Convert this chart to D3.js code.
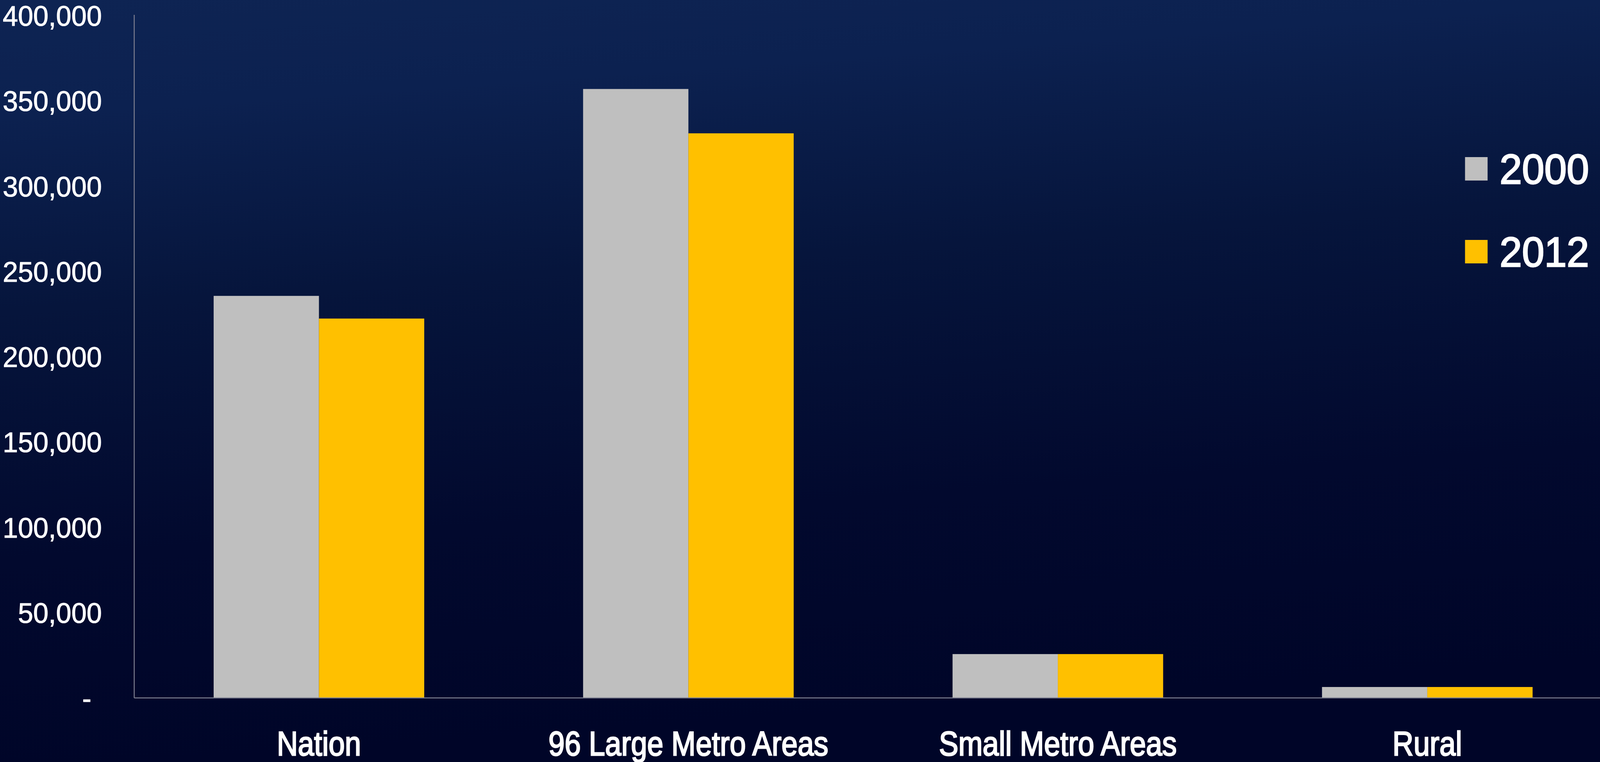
<!DOCTYPE html>
<html>
<head>
<meta charset="utf-8">
<script src="https://cdn.jsdelivr.net/npm/d3@7"></script>
<style>
  html, body { margin: 0; padding: 0; background: #000528; width: 100%; height: 100%; overflow: hidden; }
  svg { display: block; width: 100vw; height: 100vh; }
</style>
</head>
<body>
<svg id="chart" viewBox="0 0 4256 1950" preserveAspectRatio="none"></svg>
<script>
// ---- data ----
const categories = ["Nation", "96 Large Metro Areas", "Small Metro Areas", "Rural"];
const seriesNames = ["2000", "2012"];
const values2000 = [235700, 357000, 25700, 6400];
const values2012 = [222400, 331000, 25700, 6400];
const yTicks = [0, 50000, 100000, 150000, 200000, 250000, 300000, 350000, 400000];
const seriesColors = ["#BFBFBF", "#FFC000"];

const W = 4256, H = 1950;
const svg = d3.select("#chart");

// background gradient
const defs = svg.append("defs");
const grad = defs.append("linearGradient").attr("id", "bg")
  .attr("x1", "0").attr("y1", "0").attr("x2", "0.15").attr("y2", "1");
[["0%", "#0e2453"], ["15%", "#0c2150"], ["40%", "#06153c"], ["72%", "#02092e"], ["100%", "#000528"]]
  .forEach(([o, c]) => grad.append("stop").attr("offset", o).attr("stop-color", c));
svg.append("rect").attr("width", W).attr("height", H).attr("fill", "url(#bg)");

const x0 = 357, xEnd = 4288, yTop = 40, yBase = 1786;

const x = d3.scaleBand().domain(categories).range([x0, xEnd])
  .paddingInner(0.43).paddingOuter(0.215);
const xs = d3.scaleBand().domain(seriesNames).range([0, x.bandwidth()]);
const y = d3.scaleLinear().domain([0, 400000]).range([yBase, yTop]);

const rows = categories.map((c, i) => ({ cat: c, vals: [values2000[i], values2012[i]] }));

// bars
const g = svg.append("g");
rows.forEach(r => {
  r.vals.forEach((v, j) => {
    g.append("rect")
      .attr("x", x(r.cat) + xs(seriesNames[j]))
      .attr("y", y(v))
      .attr("width", xs.bandwidth())
      .attr("height", y(0) - y(v))
      .attr("fill", seriesColors[j]);
  });
});

// axes lines
svg.append("line").attr("x1", x0).attr("x2", x0).attr("y1", 38).attr("y2", yBase)
  .attr("stroke", "#7f8090").attr("stroke-width", 2.5);
svg.append("line").attr("x1", x0).attr("x2", W).attr("y1", yBase).attr("y2", yBase)
  .attr("stroke", "#7f8090").attr("stroke-width", 2.5);

// y tick labels
const fmt = d3.format(",");
const yAxis = d3.axisLeft(y).tickValues(yTicks).tickSize(0).tickPadding(0)
  .tickFormat(d => d === 0 ? "-" : fmt(d));
const ya = svg.append("g").attr("transform", `translate(271,0)`).call(yAxis);
ya.select(".domain").remove();
ya.selectAll("text")
  .attr("fill", "#ffffff")
  .attr("stroke", "#ffffff")
  .attr("stroke-width", 1.2)
  .attr("font-family", "'Liberation Sans', Arial, sans-serif")
  .attr("font-size", 73)
  .attr("dy", "0.35em")
  .attr("x", d => d === 0 ? -28 : 0);

// x labels (condensed)
const xa = svg.append("g");
categories.forEach(c => {
  const cx = x(c) + x.bandwidth() / 2;
  xa.append("text")
    .attr("transform", `translate(${cx},1933) scale(0.88,1)`)
    .attr("text-anchor", "middle")
    .attr("fill", "#ffffff")
    .attr("stroke", "#ffffff")
    .attr("stroke-width", 3)
    .attr("font-family", "'Liberation Sans', Arial, sans-serif")
    .attr("font-size", 88)
    .text(c);
});

// legend
const leg = svg.append("g");
seriesNames.forEach((s, i) => {
  const ly = 402 + i * 212;
  leg.append("rect").attr("x", 3897).attr("y", ly).attr("width", 60).attr("height", 60)
    .attr("fill", seriesColors[i]);
  leg.append("text").attr("x", 3989).attr("y", ly + 68)
    .attr("fill", "#ffffff")
    .attr("stroke", "#ffffff")
    .attr("stroke-width", 3)
    .attr("font-family", "'Liberation Sans', Arial, sans-serif")
    .attr("font-size", 107)
    .text(s);
});
</script>
</body>
</html>
